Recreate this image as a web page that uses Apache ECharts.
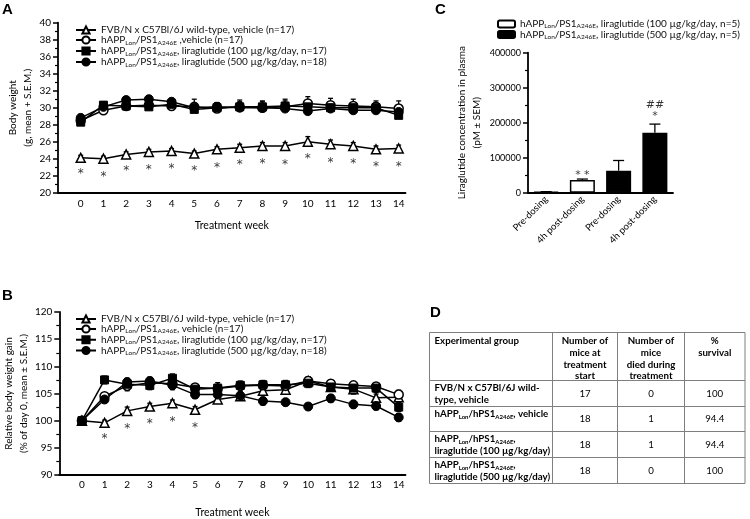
<!DOCTYPE html>
<html><head><meta charset="utf-8">
<script src="https://cdn.jsdelivr.net/npm/echarts@6/dist/echarts.min.js"></script>
<style>html,body{margin:0;padding:0;background:#fff}#c{width:750px;height:519px}</style>
</head><body><div id="c"></div>
<script>
// ---------- DATA ----------
const weeks = [0,1,2,3,4,5,6,7,8,9,10,11,12,13,14];

// Panel A: body weight (g, mean + SEM)
const wtA     = [24.1,24.0,24.5,24.8,24.9,24.6,25.1,25.3,25.5,25.5,26.0,25.7,25.5,25.1,25.2];
const wtAErr  = [0.3,0.3,0.3,0.3,0.3,0.3,0.3,0.4,0.4,0.4,0.6,0.5,0.4,0.4,0.4];
const vehA    = [28.5,29.7,30.2,30.3,30.2,30.1,29.9,30.1,30.0,30.1,30.5,30.3,30.2,30.1,29.9];
const vehAErr = [0.4,0.4,0.5,0.5,0.5,0.9,0.7,0.8,0.8,0.9,0.8,0.8,0.8,0.7,0.9];
const loA     = [28.3,30.3,30.2,30.1,30.4,29.8,30.0,30.1,30.1,30.2,30.1,30.0,30.0,30.0,29.1];
const loAErr  = [0.4,0.4,0.5,0.5,0.5,0.6,0.6,0.6,0.6,0.6,0.6,0.6,0.6,0.6,0.7];
const hiA     = [28.8,30.1,30.9,31.0,30.7,30.0,30.1,30.0,30.0,29.9,29.6,29.9,29.7,29.7,29.5];
const hiAErr  = [0.4,0.4,0.4,0.4,0.4,0.5,0.5,0.5,0.5,0.5,0.5,0.5,0.5,0.5,0.6];
const starA   = [22.7,22.3,23.0,23.2,23.3,23.0,23.4,23.7,23.9,23.8,24.4,24.0,23.9,23.5,23.5];

// Panel B: relative body weight gain (% of day 0, mean ± SEM)
const wtB     = [100,99.6,101.8,102.6,103.2,102.0,103.9,104.5,105.5,105.7,107.3,106.2,105.8,104.2,104.3];
const wtBErr  = [0,0.5,0.7,0.6,0.6,0.6,0.6,0.6,0.7,0.7,0.8,0.7,0.9,0.7,0.8];
const vehB    = [100,104.5,106.4,107.0,106.8,106.1,105.9,106.4,106.5,106.4,107.3,106.8,106.5,106.3,104.8];
const vehBErr = [0,0.6,0.9,0.8,0.8,0.7,0.7,0.7,0.7,0.7,0.7,0.7,0.7,0.7,0.8];
const loB     = [100,107.5,106.7,106.5,107.8,105.8,106.0,106.5,106.6,106.6,106.9,106.2,106.0,106.0,102.5];
const loBErr  = [0,0.7,0.8,0.8,0.8,0.8,1.0,0.8,0.8,0.8,0.8,0.8,0.8,0.8,0.8];
const hiB     = [100,103.9,107.1,107.3,106.5,104.8,104.8,104.6,103.6,103.4,102.6,104.1,103.0,102.7,100.6];
const hiBErr  = [0,0.6,0.7,0.7,0.8,0.7,0.7,0.7,0.7,0.6,0.6,0.7,0.7,0.7,0.7];
const starBWeek = [1,2,3,4,5];
const starB     = [97.3,99.2,100.2,100.5,99.5];

// Panel C: liraglutide concentration (pM ± SEM)
const cCats    = ['Pre-dosing','4h post-dosing','Pre-dosing','4h post-dosing'];
const c100     = [2500, 36000, '-', '-'];
const c100Err  = [500, 3000, 0, 0];
const c500     = ['-', '-', 63000, 171000];
const c500Err  = [0, 0, 29000, 25000];
const cMarkCat = [1, 3, 3];
const cMarkVal = [60000, 228000, 258000];
const cMarkTxt = ['* *', '*', '##'];

// Legends
const legA = ['FVB/N x C57Bl/6J wild-type, vehicle (n=17)',
              'hAPP_{Lon}/PS1_{A246E} ,vehicle (n=17)',
              'hAPP_{Lon}/PS1_{A246E}, liraglutide (100 µg/kg/day, n=17)',
              'hAPP_{Lon}/PS1_{A246E}, liraglutide (500 µg/kg/day, n=18)'];
const legB = ['FVB/N x C57Bl/6J wild-type, vehicle (n=17)',
              'hAPP_{Lon}/PS1_{A246E}, vehicle (n=17)',
              'hAPP_{Lon}/PS1_{A246E}, liraglutide (100 µg/kg/day, n=17)',
              'hAPP_{Lon}/PS1_{A246E}, liraglutide (500 µg/kg/day, n=18)'];
const legC = ['hAPP_{Lon}/PS1_{A246E}, liraglutide (100 µg/kg/day, n=5)',
              'hAPP_{Lon}/PS1_{A246E}, liraglutide (500 µg/kg/day, n=5)'];

// Panel D: table
const tHeader = ['Experimental group', 'Number of\nmice at\ntreatment\nstart', 'Number of\nmice\ndied during\ntreatment', '%\nsurvival'];
const tGroup  = ['FVB/N x C57Bl/6J wild-\ntype, vehicle',
                 'hAPP_{Lon}/hPS1_{A246E}, vehicle',
                 'hAPP_{Lon}/hPS1_{A246E},\nliraglutide (100 µg/kg/day)',
                 'hAPP_{Lon}/hPS1_{A246E},\nliraglutide (500 µg/kg/day)'];
const tStart  = [17, 18, 18, 18];
const tDied   = [0, 1, 1, 0];
const tSurv   = ['100', '94.4', '94.4', '100'];

// ---------- HELPERS ----------
const F = 'Lato';
function toRich(str, n, s) {
  return str.split('\n').map(line => {
    let out = '', last = 0; const re = /_\{([^}]*)\}/g; let m;
    while ((m = re.exec(line)) !== null) {
      if (m.index > last) out += '{' + n + '|' + line.slice(last, m.index) + '}';
      out += '{' + s + '|' + m[1] + '}';
      last = m.index + m[0].length;
    }
    if (last < line.length) out += '{' + n + '|' + line.slice(last) + '}';
    return out;
  }).join('\n');
}
function legRich(lh) {
  return {
    n: {fontFamily: F, fontSize: 10, color: '#111', lineHeight: lh},
    s: {fontFamily: F, fontSize: 6.5, color: '#111', verticalAlign: 'bottom', lineHeight: lh - 3}
  };
}
const pair = arr => arr.map((v, i) => [weeks[i], v]);

function errBars(xi, vals, errs, both, capW, isCat) {
  return {
    type: 'custom', xAxisIndex: xi, yAxisIndex: xi, z: 1, silent: true,
    data: vals.map((v, i) => [isCat ? i : weeks[i], v === '-' ? 0 : v, errs[i]]),
    renderItem: (params, api) => {
      const x = api.value(0), v = api.value(1), e = api.value(2);
      if (!e) return;
      const t = api.coord([x, v + e]), b = api.coord([x, both ? v - e : v]);
      const h = capW / 2, st = {stroke: '#000', lineWidth: 1.3};
      const ch = [
        {type: 'line', shape: {x1: t[0], y1: t[1], x2: b[0], y2: b[1]}, style: st},
        {type: 'line', shape: {x1: t[0] - h, y1: t[1], x2: t[0] + h, y2: t[1]}, style: st}
      ];
      if (both) ch.push({type: 'line', shape: {x1: b[0] - h, y1: b[1], x2: b[0] + h, y2: b[1]}, style: st});
      return {type: 'group', children: ch};
    }
  };
}
const styles = [
  {symbol: 'triangle', symbolSize: 9, itemStyle: {color: '#fff', borderColor: '#000', borderWidth: 1.5}},
  {symbol: 'circle', symbolSize: 9, itemStyle: {color: '#fff', borderColor: '#000', borderWidth: 1.5}},
  {symbol: 'rect', symbolSize: 8, itemStyle: {color: '#000', borderColor: '#000', borderWidth: 1}},
  {symbol: 'circle', symbolSize: 9, itemStyle: {color: '#000', borderColor: '#000', borderWidth: 1}}
];
function lineSeries(name, xi, vals, k) {
  return Object.assign({
    type: 'line', name: name, xAxisIndex: xi, yAxisIndex: xi, data: pair(vals), z: 3,
    lineStyle: {color: '#000', width: 1.5}, emphasis: {disabled: true}, animation: false
  }, styles[k]);
}
function starSeries(xi, xs, ys, txt, fs) {
  return {
    type: 'scatter', xAxisIndex: xi, yAxisIndex: xi, symbolSize: 1, silent: true,
    itemStyle: {color: 'rgba(0,0,0,0)'}, z: 4,
    data: xs.map((x, i) => ({value: [x, ys[i]], label: {formatter: txt[i]}})),
    label: {show: true, position: 'inside', color: '#000', fontFamily: 'DejaVu Sans', fontSize: fs, offset: [0, 4]}
  };
}

const axisCommon = {
  axisLine: {show: true, onZero: false, lineStyle: {color: '#000', width: 1.8}},
  splitLine: {show: false},
  axisLabel: {color: '#000', fontFamily: F, fontSize: 10}
};
function xWeek(gi, margin, gap) {
  return Object.assign({}, axisCommon, {
    type: 'value', gridIndex: gi, min: -1, max: 14.3, interval: 1,
    axisTick: {show: false},
    axisLabel: {color: '#000', fontFamily: F, fontSize: 10, margin: margin,
      formatter: v => (v >= 0 && Number.isInteger(v)) ? String(v) : ''},
    name: 'Treatment week', nameLocation: 'middle', nameGap: gap,
    nameTextStyle: {color: '#000', fontFamily: F, fontSize: 10.5}
  });
}
function yVal(gi, min, max, interval, name, gap, fs) {
  return Object.assign({}, axisCommon, {
    type: 'value', gridIndex: gi, min: min, max: max, interval: interval,
    axisTick: {show: true, length: 5, inside: false, lineStyle: {color: '#000', width: 1.5}},
    minorTick: {show: true, splitNumber: 2, length: 3, lineStyle: {color: '#000', width: 1.2}},
    axisLabel: {color: '#000', fontFamily: F, fontSize: fs || 10, margin: 7, formatter: v => String(v)},
    name: name, nameLocation: 'middle', nameGap: gap, nameRotate: 90,
    nameTextStyle: {color: '#000', fontFamily: F, fontSize: 10, lineHeight: 15, align: 'center'}
  });
}

const ids = ['a1','a2','a3','a4'], idsB = ['b1','b2','b3','b4'], idsC = ['c1','c2'];
const labelOf = {};
ids.forEach((id, i) => labelOf[id] = legA[i]);
idsB.forEach((id, i) => labelOf[id] = legB[i]);
idsC.forEach((id, i) => labelOf[id] = legC[i]);

// ---------- TABLE (graphic) ----------
const colX = [429.5, 552.5, 617.5, 684.5, 745];
const rowY = [332.5, 380.5, 406.5, 431.5, 457.5, 483.5];
const TF = 9.7;
const tRich = {
  nb: {fontFamily: F, fontSize: TF, fontWeight: 'bold', color: '#000', lineHeight: 12.5},
  sb: {fontFamily: F, fontSize: 6, fontWeight: 'bold', color: '#000', verticalAlign: 'bottom', lineHeight: 9}
};
const graphics = [];
const lineSt = {stroke: '#7f7f7f', lineWidth: 1};
rowY.forEach(y => graphics.push({type: 'line', shape: {x1: colX[0], y1: y, x2: colX[4], y2: y}, style: lineSt, silent: true}));
colX.forEach(x => graphics.push({type: 'line', shape: {x1: x, y1: rowY[0], x2: x, y2: rowY[5]}, style: lineSt, silent: true}));
tHeader.forEach((h, c) => {
  const x = c === 0 ? colX[0] + 5 : (colX[c] + colX[c + 1]) / 2;
  graphics.push({type: 'text', x: x, y: rowY[0] + 2.5, style: {text: h, font: 'bold ' + TF + 'px ' + F, fill: '#000', lineHeight: 11.8, align: c === 0 ? 'left' : 'center', verticalAlign: 'top'}});
});
tGroup.forEach((g, r) => {
  graphics.push({type: 'text', x: colX[0] + 5, y: rowY[r + 1] + 1, style: {text: toRich(g, 'nb', 'sb'), rich: tRich, align: 'left', verticalAlign: 'top'}});
  const cy = (rowY[r + 1] + rowY[r + 2]) / 2;
  [tStart[r], tDied[r], tSurv[r]].forEach((v, c) => {
    graphics.push({type: 'text', x: (colX[c + 1] + colX[c + 2]) / 2, y: cy, style: {text: String(v), font: TF + 'px ' + F, fill: '#000', align: 'center', verticalAlign: 'middle'}});
  });
});
[['A', 2, 2], ['B', 2, 288], ['C', 435, 2], ['D', 430, 305]].forEach(p => {
  graphics.push({type: 'text', x: p[1], y: p[2], style: {text: p[0], font: 'bold 15px "Liberation Sans"', fill: '#000', verticalAlign: 'top'}});
});

// ---------- OPTION ----------
const option = {
  animation: false,
  backgroundColor: '#fff',
  textStyle: {fontFamily: F},
  grid: [
    {left: 58, top: 22.7, width: 347.5, height: 170},
    {left: 58, top: 312, width: 347.5, height: 171.3},
    {left: 528, top: 52.7, width: 145, height: 140}
  ],
  xAxis: [
    xWeek(0, 6, 27),
    xWeek(1, 5, 32),
    Object.assign({}, axisCommon, {
      type: 'category', gridIndex: 2, data: cCats, axisTick: {show: false},
      axisLabel: {color: '#000', fontFamily: F, fontSize: 9.5, rotate: 45, margin: 5, interval: 0}
    })
  ],
  yAxis: [
    yVal(0, 20, 40, 2, 'Body weight\n(g, mean + S.E.M.)', 22),
    yVal(1, 90, 120, 5, 'Relative body weight gain\n(% of day 0, mean ± S.E.M.)', 22),
    yVal(2, 0, 400000, 100000, 'Liraglutide concentration in plasma\n(pM ± SEM)', 44, 9)
  ],
  legend: [
    {data: ids, left: 70, top: 20, orient: 'vertical', itemGap: 0, itemWidth: 20, itemHeight: 9,
      formatter: n => toRich(labelOf[n], 'n', 's'), textStyle: {rich: legRich(12)}, selectedMode: false},
    {data: idsB, left: 70, top: 309, orient: 'vertical', itemGap: 0, itemWidth: 20, itemHeight: 9,
      formatter: n => toRich(labelOf[n], 'n', 's'), textStyle: {rich: legRich(11.5)}, selectedMode: false},
    {data: idsC, left: 492, top: 14, orient: 'vertical', itemGap: 0, itemWidth: 17, itemHeight: 7,
      formatter: n => toRich(labelOf[n], 'n', 's'), textStyle: {rich: legRich(11)}, selectedMode: false}
  ],
  graphic: graphics,
  series: [
    errBars(0, wtA, wtAErr, false, 5), errBars(0, vehA, vehAErr, false, 5),
    errBars(0, loA, loAErr, false, 5), errBars(0, hiA, hiAErr, false, 5),
    lineSeries('a1', 0, wtA, 0), lineSeries('a2', 0, vehA, 1), lineSeries('a3', 0, loA, 2), lineSeries('a4', 0, hiA, 3),
    starSeries(0, weeks, starA, weeks.map(() => '*'), 12),
    errBars(1, wtB, wtBErr, true, 5), errBars(1, vehB, vehBErr, true, 5),
    errBars(1, loB, loBErr, true, 5), errBars(1, hiB, hiBErr, true, 5),
    lineSeries('b1', 1, wtB, 0), lineSeries('b2', 1, vehB, 1), lineSeries('b3', 1, loB, 2), lineSeries('b4', 1, hiB, 3),
    starSeries(1, starBWeek, starB, starBWeek.map(() => '*'), 12),
    {type: 'bar', name: 'c1', xAxisIndex: 2, yAxisIndex: 2, data: c100, barWidth: '69%', barGap: '-100%',
      itemStyle: {color: '#fff', borderColor: '#000', borderWidth: 1.5}, z: 2},
    {type: 'bar', name: 'c2', xAxisIndex: 2, yAxisIndex: 2, data: c500, barWidth: '69%', barGap: '-100%',
      itemStyle: {color: '#000', borderColor: '#000', borderWidth: 1.5}, z: 2},
    errBars(2, c100, c100Err, false, 11, true),
    errBars(2, c500, c500Err, false, 11, true),
    {type: 'scatter', xAxisIndex: 2, yAxisIndex: 2, symbolSize: 1, silent: true, itemStyle: {color: 'rgba(0,0,0,0)'},
      data: cMarkCat.map((c, i) => ({value: [c, cMarkVal[i]], label: {formatter: cMarkTxt[i]}})),
      label: {show: true, position: 'inside', color: '#000', fontFamily: 'DejaVu Sans', fontSize: 11, offset: [0, 3]}}
  ]
};
const chart = echarts.init(document.getElementById('c'));
chart.setOption(option);
</script></body></html>
